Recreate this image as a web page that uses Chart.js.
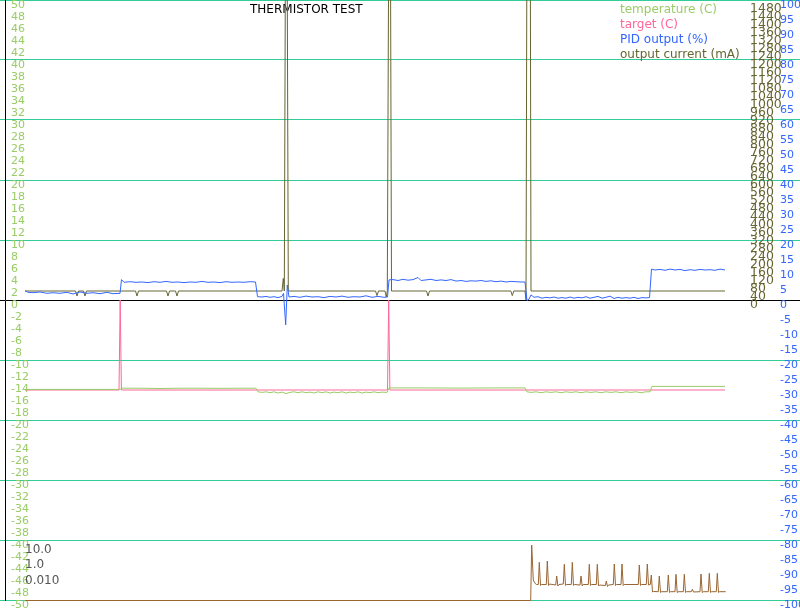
<!DOCTYPE html>
<html><head><meta charset="utf-8">
<script src="https://cdn.jsdelivr.net/npm/chart.js"></script>
<style>html,body{margin:0;padding:0;background:#fff;overflow:hidden}canvas{display:block}#err{position:absolute;left:10px;top:100px;font:12px monospace;color:red;white-space:pre}</style>
</head><body>
<canvas id="c" width="800" height="611"></canvas>
<div id="err"></div>
<script>
window.onerror = (msg, src, line, col) => { document.getElementById('err').textContent += '\nonerror: ' + msg + ' @' + line + ':' + col; };
</script>
<script>
// ---- data (time in seconds) ----
const chartTitle = 'THERMISTOR TEST';
const seriesLabels = ['temperature (C)', 'target (C)', 'PID output (%)', 'output current (mA)', 'noise'];

const tempT = [0,35,70,95,97,115,135,155,175,195,215,231,233,237,241,245,249,253,257,261,265,269,273,277,281,285,289,293,297,301,305,309,313,317,321,325,329,333,337,341,345,349,353,357,362,364,395,435,475,500,502,506,511,516,521,526,531,536,541,546,551,556,561,566,571,576,581,586,591,596,601,606,611,616,621,625,627,700];
const tempV = [-14.9,-14.9,-14.9,-14.9,-14.7,-14.7,-14.75,-14.7,-14.7,-14.72,-14.7,-14.7,-15.3,-15.4,-15.3,-15.45,-15.3,-15.5,-15.35,-15.6,-15.4,-15.3,-15.45,-15.3,-15.45,-15.35,-15.5,-15.3,-15.45,-15.3,-15.5,-15.35,-15.45,-15.3,-15.5,-15.35,-15.45,-15.3,-15.5,-15.35,-15.45,-15.3,-15.45,-15.35,-15.4,-14.65,-14.65,-14.68,-14.65,-14.65,-15.3,-15.4,-15.3,-15.45,-15.3,-15.4,-15.3,-15.45,-15.3,-15.4,-15.3,-15.45,-15.3,-15.4,-15.3,-15.45,-15.3,-15.4,-15.3,-15.45,-15.3,-15.4,-15.3,-15.45,-15.3,-15.3,-14.4,-14.4];

const targetT = [0,94,95.2,96.4,362.5,363.7,364.9,700];
const targetV = [-15,-15,0,-15,-15,0,-15,-15];

const pidT = [0,3,8,15,22,28,35,42,48,55,62,68,75,82,88,95,
  96.5,99,105,111,117,123,129,135,141,147,153,159,165,171,177,183,189,195,201,207,213,219,225,230.5,
  232.5,237,241,245,249,253,257,258.5,260.7,262.3,264,269,275,281,287,293,299,305,311,317,323,329,335,341,347,353,359,362.5,
  364,368,373,378,383,388,393,396,401,406,411,416,421,426,431,436,441,446,451,456,461,466,471,476,481,486,491,496,500,
  502,504,506,509,513,517,521,525,529,533,537,541,545,549,553,557,561,565,569,573,577,581,585,589,593,597,601,605,609,613,617,621,624.5,
  626.5,630,635,640,645,650,655,660,665,670,675,680,685,690,695,700];
const pidV = [3.1,2.57,2.43,2.67,2.23,2.43,2.23,2.57,2.0,2.67,2.23,2.43,2.1,2.57,2.1,2.23,
  6.8,5.9,6.1,5.9,6.0,5.8,6.1,5.9,6.2,5.9,6.0,5.8,6.0,5.9,6.2,5.9,6.0,5.8,6.1,5.9,6.0,5.9,6.1,6.0,
  1.1,1.0,1.2,0.9,1.1,0.8,1.2,2.2,-8.3,5.0,1.0,1.2,0.9,1.3,1.0,1.1,0.8,1.2,1.0,1.3,0.9,1.1,1.0,1.4,0.9,1.2,0.9,1.0,
  6.7,6.8,6.5,6.9,6.6,6.8,7.5,6.5,6.7,6.9,6.5,6.7,6.5,6.8,6.3,6.5,6.2,6.4,6.3,6.5,6.2,6.4,6.1,6.3,6.0,6.2,6.1,6.0,6.0,
  -0.2,0.3,1.7,0.9,1.1,0.6,0.9,0.7,1.0,0.6,0.8,0.6,1.0,0.6,0.9,0.7,1.1,0.6,0.9,1.2,0.6,0.9,1.3,0.5,0.9,0.6,0.8,0.6,0.9,0.5,0.8,0.7,0.8,
  10.3,10.0,10.2,9.9,10.3,10.0,10.2,9.8,10.1,9.9,10.2,10.0,10.1,9.9,10.3,10.0];

const currentT = [0,50.5,52,53.5,58.5,60,61.5,110.5,112,113.5,141.5,143,144.5,150.5,152,153.5,257,258.3,259.3,261.3,263.3,350.5,352,353.5,360,361.3,362.3,364.7,366.5,401.5,403,404.5,485.8,487.3,488.8,500,501,503.8,506,700];
const currentV = [45,45,20,45,45,20,45,45,20,45,45,20,45,45,20,45,45,108,45,3000,45,45,22,45,45,15,45,3000,45,45,20,45,45,22,45,45,0,5400,45,45];

const noiseT = [0,505.7,506.7,508.3,510,511.5,
  513.3,514.3,515.5,516.5, 521.3,522.3,523.5,524.5, 530.7,531.7,532.9,534, 538.3,539.3,540.5,541.5,
  546.3,547.3,548.5,549.5, 555,556,557.2,558.2, 563.3,564.3,565.5,566.5, 571.3,572.3,573.5,574.5,
  580.3,581.3,582.5,583.5, 588.3,589.3,590.5,591.5, 596,597,598.2,599.2, 605,
  613.3,614.3,615.5,616.5, 621.3,622.3,623.5, 625.3,626.3,627.5,628.5,
  633.3,634.3,635.5,636.5, 642.3,643.3,644.5,645.5, 650,651,652.2,653.2, 658.3,659.3,660.5,661.5,
  666.3,667.3,668.5, 675,676,677.2,678.2, 683.3,684.3,685.5,686.5, 691.3,692.3,693.5,694.5, 700.7];
const noiseV = [-0.05,-0.05,5.5,2.0,1.67,1.55,
  1.55,3.77,1.45,1.55, 1.55,3.9,1.45,1.6, 1.5,2.4,1.4,1.55, 1.6,3.57,1.45,1.55,
  1.55,3.77,1.45,1.55, 1.5,2.4,1.4,1.55, 1.55,3.57,1.45,1.55, 1.55,3.57,1.4,1.5,
  1.45,1.9,1.35,1.5, 1.55,3.6,1.45,1.55, 1.55,3.6,1.45,1.55, 1.55,
  1.55,3.5,1.45,1.55, 1.55,3.6,1.5, 1.55,2.5,0.8,0.85,
  0.83,2.4,0.75,0.83, 0.83,2.5,0.75,0.83, 0.83,2.57,0.75,0.83, 0.83,2.57,0.75,0.83,
  0.83,1.07,0.8, 0.83,2.6,0.75,0.83, 0.83,2.67,0.75,0.83, 0.83,2.67,0.75,0.83, 0.83];

const currentTicks = [0,40,80,120,160,200,240,280,320,360,400,440,480,520,560,600,640,680,720,760,800,840,880,920,960,1000,1040,1080,1120,1160,1200,1240,1280,1320,1360,1400,1440,1480];
const noiseTickValues = [5.0, 3.5, 1.95];
const noiseTickLabels = ['10.0', '1.0', '0.010'];

// ---- styles ----
const C_TEMP = '#99cc66', C_TGT = '#ff6699', C_PID = '#3366ff', C_CUR = '#666633', C_NOISE = '#996633', C_GRID = '#33cc99';

Chart.defaults.font.family = 'DejaVu Sans';
const pts = (t, v) => t.map((x, i) => ({x: x, y: v[i]}));
const line = (label, t, v, color, axis) => ({label, data: pts(t, v), borderColor: color, backgroundColor: color, borderWidth: 1, pointRadius: 0, fill: false, tension: 0, yAxisID: axis, clip: 4});

function gridCol(ctx) {
  const v = ctx.tick ? ctx.tick.value : 1;
  if (v === 0) return '#000000';
  return (Math.abs(v) % 10 === 0) ? C_GRID : 'rgba(0,0,0,0)';
}
const zeroWidth = s => { s.width = 0; s.paddingTop = 0; s.paddingBottom = 0; s.paddingLeft = 0; s.paddingRight = 0; };
const plain = v => String(v);

const placeBlocks = {
  id: 'placeBlocks',
  afterLayout(chart) {
    const t = chart.titleBlock; if (t) { t.left = 200; t.right = 412.6; }
    const l = chart.legend; if (l) { l.left = 611; l.top = 1; }
  }
};

new Chart(document.getElementById('c'), {
  type: 'line',
  data: {
    datasets: [
      line(seriesLabels[0], tempT, tempV, C_TEMP, 'y'),
      line(seriesLabels[1], targetT, targetV, C_TGT, 'y'),
      line(seriesLabels[2], pidT, pidV, C_PID, 'yPid'),
      line(seriesLabels[3], currentT, currentV, C_CUR, 'yCur'),
      line(seriesLabels[4], noiseT, noiseV, C_NOISE, 'yNoise')
    ]
  },
  options: {
    responsive: false, animation: false, devicePixelRatio: 1,
    layout: {autoPadding: false, padding: {left: 5, right: 0, top: 0, bottom: 11}},
    plugins: {
      tooltip: {enabled: false},
      title: {display: true, text: chartTitle, color: '#000000', font: {size: 12, weight: 'normal'}, padding: {top: 2.8, bottom: -17.2}},
      legend: {
        position: 'chartArea', align: 'start',
        labels: {
          boxWidth: 0, boxHeight: 0, padding: 3, font: {size: 12},
          generateLabels: chart => chart.data.datasets.slice(0, 4).map((ds, i) => ({
            text: ds.label, fontColor: ds.borderColor, fillStyle: 'rgba(0,0,0,0)', strokeStyle: 'rgba(0,0,0,0)',
            lineWidth: 0, hidden: false, datasetIndex: i
          }))
        }
      }
    },
    scales: {
      x: {type: 'linear', min: -20, max: 775, display: false},
      y: {
        position: 'left', min: -50, max: 50, afterFit: zeroWidth,
        grid: {color: gridCol, tickColor: gridCol, drawTicks: true, tickLength: 5, lineWidth: 1},
        border: {display: true, color: '#000000', width: 1},
        ticks: {stepSize: 2, autoSkip: false, mirror: true, padding: 6, labelOffset: 5, color: C_TEMP, font: {size: 11}, callback: plain}
      },
      yNoise: {
        position: 'left', min: 0, max: 60, afterFit: zeroWidth,
        afterBuildTicks: s => { s.ticks = noiseTickValues.map(v => ({value: v})); },
        grid: {display: false}, border: {display: false},
        ticks: {autoSkip: false, mirror: true, padding: 20, color: '#555555', font: {size: 12}, callback: (v, i) => noiseTickLabels[i]}
      },
      yCur: {
        position: 'left', min: -1500, max: 1500, afterFit: zeroWidth,
        afterBuildTicks: s => { s.ticks = currentTicks.map(v => ({value: v})); },
        grid: {display: false}, border: {display: false},
        ticks: {autoSkip: false, mirror: true, padding: 745, labelOffset: 5, color: C_CUR, font: {size: 12.5}, callback: plain}
      },
      yPid: {
        position: 'left', min: -100, max: 100, afterFit: zeroWidth,
        grid: {display: false}, border: {display: false},
        ticks: {stepSize: 5, autoSkip: false, mirror: true, padding: 775, labelOffset: 5, color: C_PID, font: {size: 11}, callback: plain}
      }
    }
  },
  plugins: [placeBlocks]
});
</script></body></html>
